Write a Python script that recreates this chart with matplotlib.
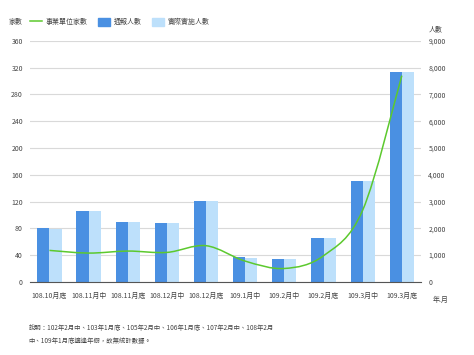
import matplotlib
matplotlib.use("Agg")
import matplotlib.pyplot as plt
import numpy as np
from matplotlib.path import Path
from matplotlib.patches import PathPatch
from matplotlib.ticker import FuncFormatter

plt.rcParams["font.family"] = ["Noto Sans CJK TC", "DejaVu Sans"]

# data
months = ["108.10月底", "108.11月中", "108.11月底", "108.12月中", "108.12月底",
          "109.1月中", "109.2月中", "109.2月底", "109.3月中", "109.3月底"]
firms = [47, 43, 46, 44, 54, 31, 20, 39, 107, 308]
reported = [2000, 2650, 2230, 2200, 3030, 910, 860, 1630, 3780, 7850]
actual = [1990, 2630, 2230, 2190, 3030, 900, 850, 1620, 3780, 7850]

DARK = "#4a90e2"
LIGHT = "#bde0fb"
GREEN = "#5cc92e"
GRID = "#d9d9d9"
TXT = "#444444"
FS = 5


def smooth_path(x, y):
    """Catmull-Rom curve through the points, as cubic Bezier segments."""
    x = np.asarray(x, float)
    y = np.asarray(y, float)
    verts = [(x[0], y[0])]
    codes = [Path.MOVETO]
    n = len(x)
    for i in range(n - 1):
        p0 = (x[max(i - 1, 0)], y[max(i - 1, 0)])
        p1 = (x[i], y[i])
        p2 = (x[i + 1], y[i + 1])
        p3 = (x[min(i + 2, n - 1)], y[min(i + 2, n - 1)])
        c1 = (p1[0] + (p2[0] - p0[0]) / 6, p1[1] + (p2[1] - p0[1]) / 6)
        c2 = (p2[0] - (p3[0] - p1[0]) / 6, p2[1] - (p3[1] - p1[1]) / 6)
        verts += [c1, c2, p2]
        codes += [Path.CURVE4] * 3
    return Path(verts, codes)


fig = plt.figure(figsize=(4.74, 3.55), dpi=100)
ax = fig.add_axes([0.063, 0.206, 0.826, 0.679])
ax2 = ax.twinx()

x = np.arange(len(months))
w = 0.31
ax2.bar(x - w / 2, reported, w, color=DARK, zorder=2)
ax2.bar(x + w / 2, actual, w, color=LIGHT, zorder=2)
ax2.set_ylim(0, 9000)
ax2.set_yticks(np.arange(0, 9001, 1000))
ax2.yaxis.set_major_formatter(FuncFormatter(lambda v, p: f"{int(v):,}"))
ax2.grid(axis="y", color=GRID, linewidth=0.8, zorder=0)
ax2.set_axisbelow(True)

ax.set_zorder(ax2.get_zorder() + 1)
ax.patch.set_visible(False)
ax.add_patch(PathPatch(smooth_path(x, firms), facecolor="none",
                       edgecolor=GREEN, linewidth=1.1, zorder=3))
ax.set_ylim(0, 360)
ax.set_yticks(np.arange(0, 361, 40))
ax.set_xlim(-0.5, len(months) - 0.5)
ax.set_xticks(x)
ax.set_xticklabels(months)

for a in (ax, ax2):
    for s in a.spines.values():
        s.set_visible(False)
    a.tick_params(length=0, labelsize=FS, colors=TXT, pad=5)
ax.spines["bottom"].set_visible(True)
ax.spines["bottom"].set_color("#555555")
ax.spines["bottom"].set_linewidth(0.8)
ax.tick_params(axis="x", pad=7)

fig.text(0.018, 0.932, "家數", fontsize=FS, color=TXT)
fig.text(0.904, 0.912, "人數", fontsize=FS, color=TXT)
fig.text(0.912, 0.148, "年.月", fontsize=FS, color=TXT)

handles = [plt.Line2D([], [], color=GREEN, linewidth=1.1),
           plt.Rectangle((0, 0), 1, 1, color=DARK),
           plt.Rectangle((0, 0), 1, 1, color=LIGHT)]
fig.legend(handles, ["事業單位家數", "通報人數", "實際實施人數"],
           loc="center left", bbox_to_anchor=(0.063, 0.938), ncol=3,
           frameon=False, fontsize=FS, handlelength=1.8, handleheight=1.3,
           columnspacing=1.5, handletextpad=0.45, borderpad=0,
           borderaxespad=0, labelcolor=TXT)

fig.text(0.06, 0.035,
         "說明：102年2月中、103年1月底、105年2月中、106年1月底、107年2月中、108年2月\n"
         "中、109年1月底適逢年假，故無統計數據。",
         fontsize=4.6, color=TXT, linespacing=1.7)

fig.savefig("out.png", dpi=100)
